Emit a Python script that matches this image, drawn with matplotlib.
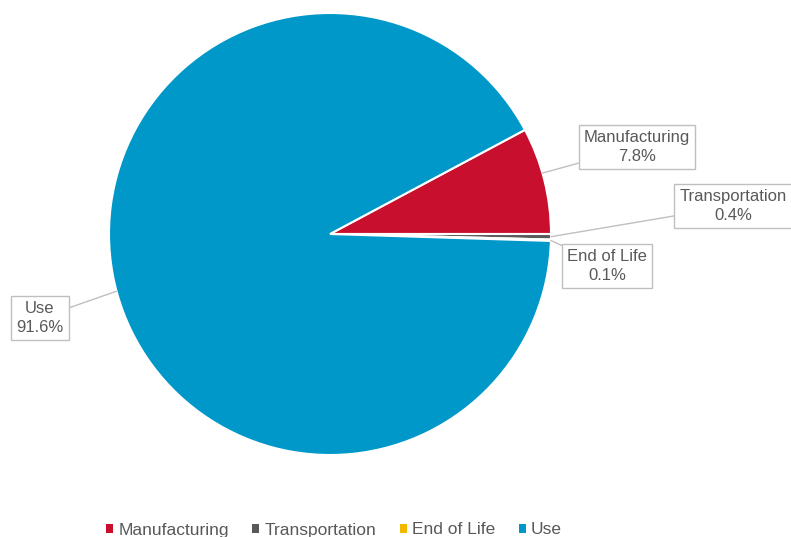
import numpy as np
import matplotlib
matplotlib.use("Agg")
from matplotlib import pyplot as plt

# life-cycle shares (%)
stages = ["Manufacturing", "Transportation", "End of Life", "Use"]
shares = [7.8, 0.4, 0.1, 91.6]
colors = ["#C8102E", "#595959", "#F2B800", "#0098C8"]

W, H = 791, 537
plt.rcParams['font.family'] = ['Liberation Sans', 'DejaVu Sans']

fig = plt.figure(figsize=(W / 100, H / 100), dpi=100)
ax = fig.add_axes([0, 0, 1, 1])

cx, cy, r = 330, H - 234, 221
start = 360 * shares[0] / sum(shares)  # first slice ends at 3 o'clock
wedges, _ = ax.pie(shares, colors=colors, startangle=start, counterclock=False,
                   center=(cx, cy), radius=r, frame=True,
                   wedgeprops=dict(edgecolor='white', linewidth=1.5))
ax.set_xlim(0, W)
ax.set_ylim(0, H)
ax.set_aspect('equal')
ax.axis('off')

# label box centres (pixels from top-left) and where the leader hits the pie
label_pos = [(637, 147), (733, 206), (607, 266), (40, 318)]
leader_ang = [16, -0.7, -1.7, 195]

for name, val, (lx, ly), ang in zip(stages, shares, label_pos, leader_ang):
    a = np.deg2rad(ang)
    px, py = cx + r * np.cos(a), cy + r * np.sin(a)
    ax.annotate(f"{name}\n{val}%", xy=(px, py), xytext=(lx, H - ly),
                ha='center', va='center', fontsize=12, color='#595959',
                linespacing=1.3,
                bbox=dict(boxstyle='square,pad=0.3', fc='white', ec='#BFBFBF', lw=1),
                arrowprops=dict(arrowstyle='-', color='#BFBFBF', lw=1,
                                shrinkA=0, shrinkB=0))

leg = ax.legend(wedges, stages, loc='center', bbox_to_anchor=(334 / W, 7 / H),
                ncol=4, frameon=False, fontsize=12.5, handlelength=0.4,
                handleheight=0.4, handletextpad=0.3, columnspacing=1.35,
                labelcolor='#595959')
for h in leg.legend_handles:
    h.set_edgecolor('none')

fig.savefig("out.png", dpi=100)
